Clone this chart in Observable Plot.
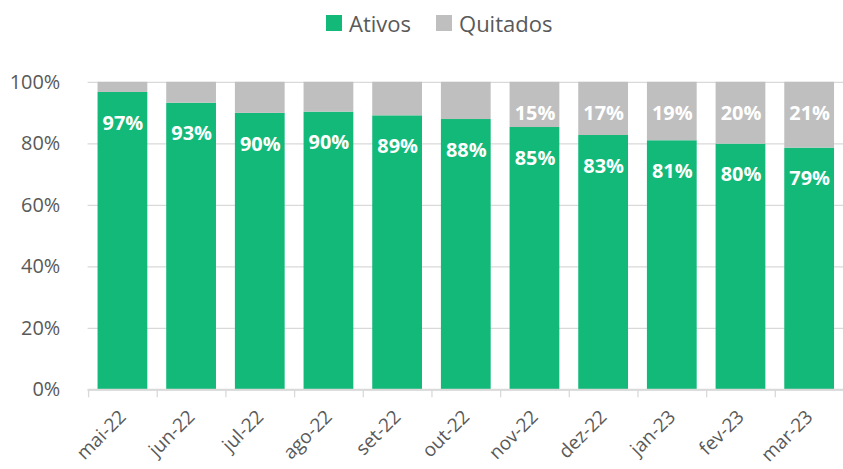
<!DOCTYPE html>
<html>
<head>
<meta charset="utf-8">
<script src="https://cdn.jsdelivr.net/npm/d3@7"></script>
<script src="https://cdn.jsdelivr.net/npm/@observablehq/plot@0.6"></script>
<style>
  html, body { margin: 0; padding: 0; background: #fff; overflow: hidden; }
  body { width: 843px; height: 469px; font-family: "Open Sans", sans-serif; }
  #legend { height: 42px; display: flex; align-items: center; padding-left: 326px; box-sizing: border-box; padding-top: 4px;
            font-size: 22px; color: #595959; }
  .item { display: flex; align-items: center; margin-right: 25px; }
  .sw { width: 16px; height: 16px; margin-right: 7px; }
</style>
</head>
<body>
<div id="legend"></div>
<div id="chart"></div>
<script>
const months = ["mai-22","jun-22","jul-22","ago-22","set-22","out-22","nov-22","dez-22","jan-23","fev-23","mar-23"];
const ativos = [96.7, 93.2, 89.9, 90.3, 89.1, 87.9, 85.3, 82.7, 81.0, 79.9, 78.6];
const quitados = [3.3, 6.8, 10.1, 9.7, 10.9, 12.1, 14.7, 17.3, 19.0, 20.1, 21.4];
const seriesNames = ["Ativos", "Quitados"];
const seriesColors = ["#13B978", "#BFBFBF"];
const yTicks = [0, 20, 40, 60, 80, 100];

const rows = months.flatMap((m, i) => [
  {month: m, series: "Ativos", value: ativos[i]},
  {month: m, series: "Quitados", value: quitados[i]}
]);

// legend
const legend = document.getElementById("legend");
seriesNames.forEach((s, i) => {
  const it = document.createElement("div");
  it.className = "item";
  it.innerHTML = `<span class="sw" style="background:${seriesColors[i]}"></span><span>${s}</span>`;
  legend.appendChild(it);
});

const width = 847, marginLeft = 88, marginRight = 0;
const step = (width - marginLeft - marginRight) / months.length;
const gridColor = "#D9D9D9";
const textColor = "#595959";

const chart = Plot.plot({
  width,
  height: 427,
  marginTop: 40,
  marginBottom: 78,
  marginLeft,
  marginRight,
  style: {fontFamily: "'Open Sans', sans-serif", background: "white"},
  x: {domain: months, paddingInner: 0.28, paddingOuter: 0.14, axis: null, label: null},
  y: {domain: [0, 100], axis: null, label: null},
  color: {domain: seriesNames, range: seriesColors},
  marks: [
    Plot.gridY(yTicks, {stroke: gridColor, strokeOpacity: 1, strokeWidth: 1.3}),
    Plot.barY(rows, {x: "month", y: "value", fill: "series"}),
    Plot.text(rows, Plot.stackY2({
      x: "month", y: "value", z: "series",
      text: d => (d.series === "Ativos" || d.value >= 14.5) ? Math.round(d.value) + "%" : "",
      fill: "white", fontSize: 20, fontWeight: "bold", dy: 31
    })),
    Plot.ruleY([0], {stroke: gridColor, strokeWidth: 2}),
    Plot.axisY(yTicks, {tickSize: 0, tickPadding: 28, tickFormat: d => d + "%", fontSize: 20, color: textColor, label: null}),
    Plot.axisX({tickSize: 8, tickFormat: () => "", dx: -step / 2, stroke: gridColor, strokeOpacity: 1, strokeWidth: 1.3, label: null}),
    Plot.axisX({tickSize: 0, tickPadding: 24, tickRotate: -45, fontSize: 19, color: textColor, label: null})
  ]
});
document.getElementById("chart").appendChild(chart);
</script>
</body>
</html>
